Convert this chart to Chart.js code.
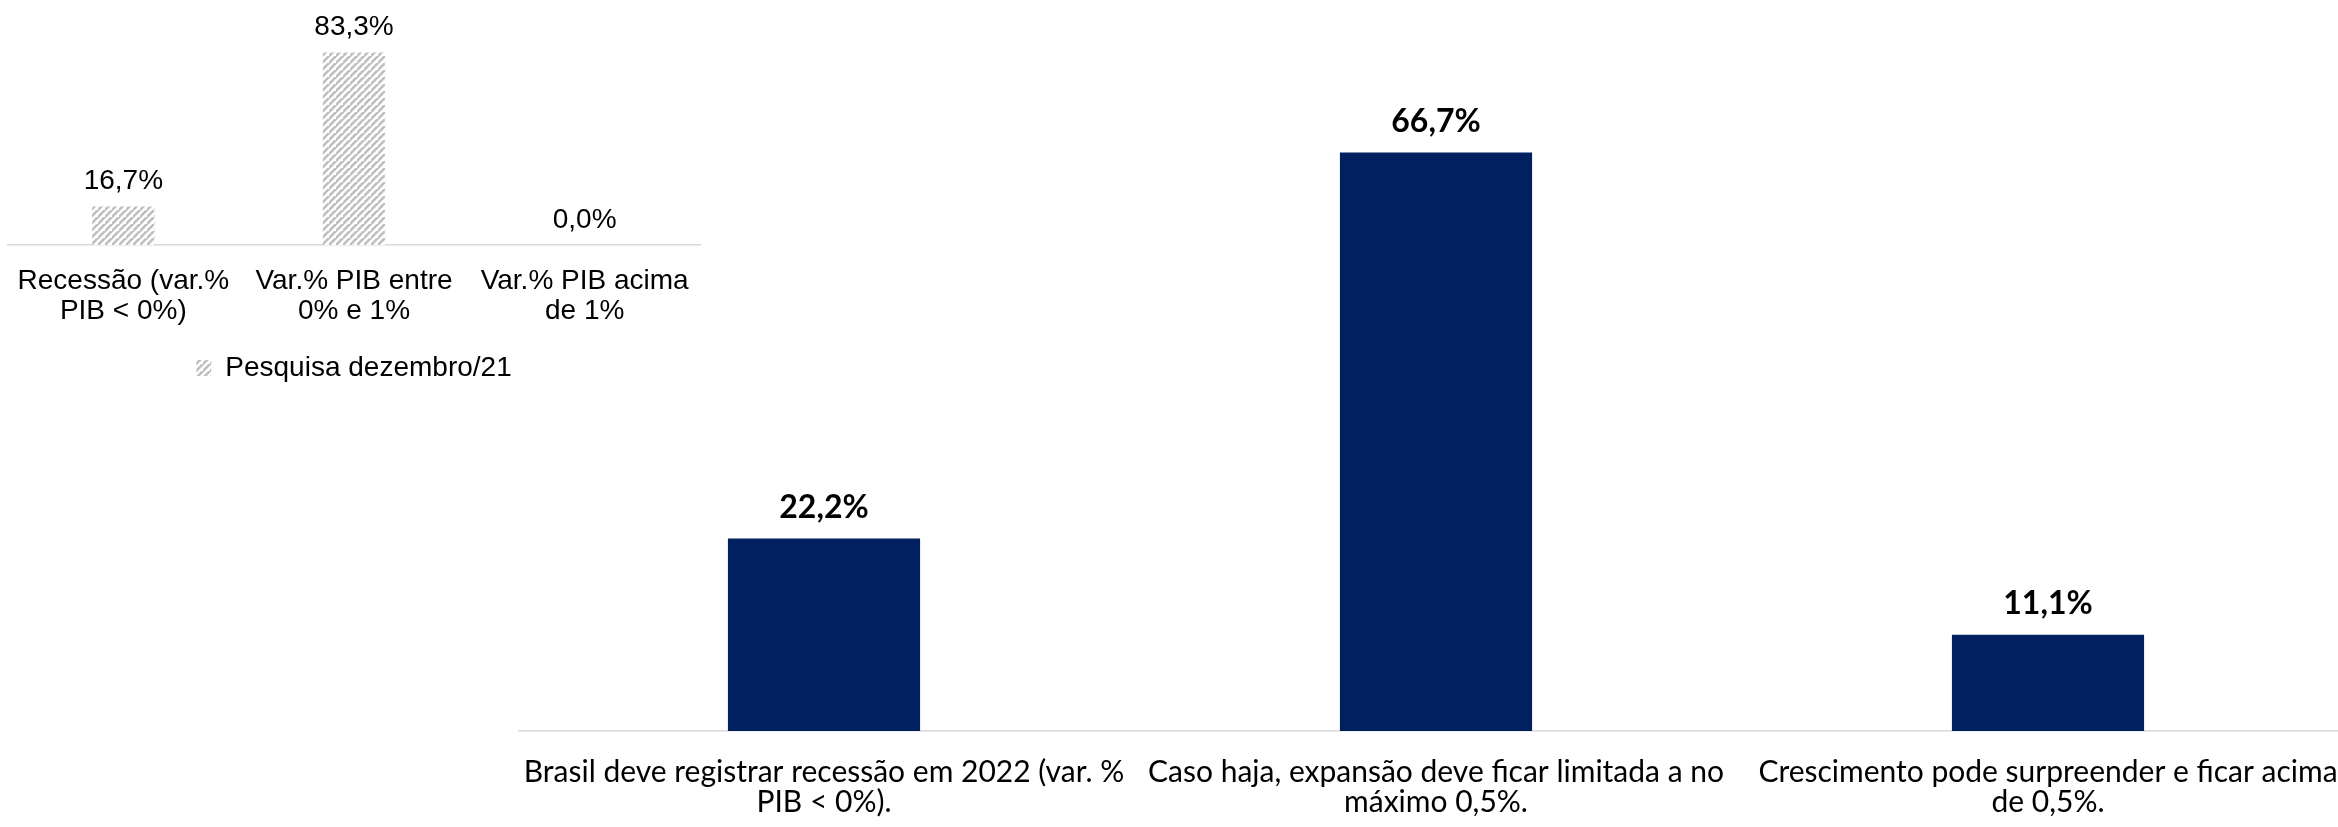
<!DOCTYPE html>
<html lang="pt-BR">
<head>
<meta charset="utf-8">
<title>Expectativas para o PIB de 2022</title>
<script src="https://cdn.jsdelivr.net/npm/chart.js@4.4.1/dist/chart.umd.min.js"></script>
<style>
  html, body { margin: 0; padding: 0; background: #ffffff; overflow: hidden; }
  body { width: 2338px; height: 827px; position: relative; }
  #inset { position: absolute; left: 0; top: 0; }
  #main { position: absolute; left: 518px; top: 0; }
</style>
</head>
<body>
<canvas id="inset" width="708" height="392"></canvas>
<canvas id="main" width="1836" height="827"></canvas>
<script>
// Pesquisa anterior (dezembro/21)
const insetCategories = [
  ["Recessão (var.%", "PIB < 0%)"],
  ["Var.% PIB entre", "0% e 1%"],
  ["Var.% PIB acima", "de 1%"]
];
const insetSeriesName = "Pesquisa dezembro/21";
const insetValues = [16.7, 83.3, 0.0];

// Pesquisa atual
const mainCategories = [
  ["Brasil deve registrar recessão em 2022 (var. %", "PIB < 0%)."],
  ["Caso haja, expansão deve ficar limitada a no", "máximo 0,5%."],
  ["Crescimento pode surpreender e ficar acima", "de 0,5%."]
];
const mainValues = [22.2, 66.7, 11.1];

const AXIS_GRAY = "#d9d9d9";
const NAVY = "#002060";
const INSET_FONT = "'Liberation Sans', Arial, sans-serif";
const MAIN_FONT = "Lato, 'Open Sans', sans-serif";

function hatchPattern(color) {
  const size = 7;
  const c = document.createElement("canvas");
  c.width = size; c.height = size;
  const g = c.getContext("2d");
  g.fillStyle = "#ffffff";
  g.fillRect(0, 0, size, size);
  g.strokeStyle = color;
  g.lineWidth = 2.6;
  g.beginPath();
  g.moveTo(-1, size + 1); g.lineTo(size + 1, -1);
  g.moveTo(-size - 1, size + 1); g.lineTo(1, -1);
  g.moveTo(size - 1, 2 * size + 1); g.lineTo(2 * size + 1, size - 1);
  g.stroke();
  return g.createPattern(c, "repeat");
}

function fmtPct(v) {
  return v.toFixed(1).replace(".", ",") + "%";
}

// Value labels above each bar
const valueLabels = {
  id: "valueLabels",
  afterDatasetsDraw(chart, args, opts) {
    const ctx = chart.ctx;
    ctx.save();
    ctx.font = opts.font;
    ctx.fillStyle = opts.color;
    ctx.textAlign = "center";
    ctx.textBaseline = "middle";
    chart.data.datasets.forEach((ds, di) => {
      const meta = chart.getDatasetMeta(di);
      meta.data.forEach((bar, i) => {
        ctx.fillText(fmtPct(ds.data[i]), bar.x, bar.y - opts.offset);
      });
    });
    ctx.restore();
  }
};

Chart.defaults.animation = false;

const insetBaseline = 245;
new Chart(document.getElementById("inset"), {
  type: "bar",
  data: {
    labels: insetCategories,
    datasets: [{
      label: insetSeriesName,
      data: insetValues,
      backgroundColor: hatchPattern("#bfbfbf"),
      borderWidth: 0,
      categoryPercentage: 1,
      barPercentage: 0.27
    }]
  },
  options: {
    responsive: false,
    animation: false,
    layout: { padding: { top: 14, left: 8, right: 8, bottom: 0 } },
    plugins: {
      legend: {
        position: "bottom",
        labels: {
          color: "#000000",
          font: { family: INSET_FONT, size: 28 },
          boxWidth: 15,
          boxHeight: 16,
          padding: 10
        }
      },
      tooltip: { enabled: false },
      valueLabels: {
        font: "28px " + INSET_FONT,
        color: "#000000",
        offset: 25
      }
    },
    scales: {
      y: { display: false, min: 0, max: 100 },
      x: {
        grid: { display: false, drawTicks: false },
        border: { display: true, color: AXIS_GRAY, width: 1.5 },
        ticks: {
          color: "#000000",
          font: { family: INSET_FONT, size: 28, lineHeight: 30 / 28 },
          padding: 21,
          autoSkip: false,
          maxRotation: 0,
          minRotation: 0
        },
        afterFit(scale) {
          const ch = scale.chart;
          scale.paddingLeft = 0;
          scale.paddingRight = 0;
          scale.height = ch.height - insetBaseline - (ch.legend ? ch.legend.height : 0);
        }
      }
    }
  },
  plugins: [valueLabels]
});

const mainBaseline = 731;
new Chart(document.getElementById("main"), {
  type: "bar",
  data: {
    labels: mainCategories,
    datasets: [{
      label: "Pesquisa atual",
      data: mainValues,
      backgroundColor: NAVY,
      borderWidth: 0,
      categoryPercentage: 1,
      barPercentage: 0.314
    }]
  },
  options: {
    responsive: false,
    animation: false,
    layout: { padding: { top: 37, left: 0, right: 0, bottom: 0 } },
    plugins: {
      legend: { display: false },
      tooltip: { enabled: false },
      valueLabels: {
        font: "bold 32px " + MAIN_FONT,
        color: "#000000",
        offset: 31
      }
    },
    scales: {
      y: { display: false, min: 0, max: 80 },
      x: {
        grid: { display: false, drawTicks: false },
        border: { display: true, color: AXIS_GRAY, width: 1.5 },
        ticks: {
          color: "#000000",
          font: { family: MAIN_FONT, size: 30, lineHeight: 1 },
          padding: 26,
          autoSkip: false,
          maxRotation: 0,
          minRotation: 0
        },
        afterFit(scale) {
          scale.paddingLeft = 0;
          scale.paddingRight = 0;
          scale.height = scale.chart.height - mainBaseline;
        }
      }
    }
  },
  plugins: [valueLabels]
});
</script>
</body>
</html>
